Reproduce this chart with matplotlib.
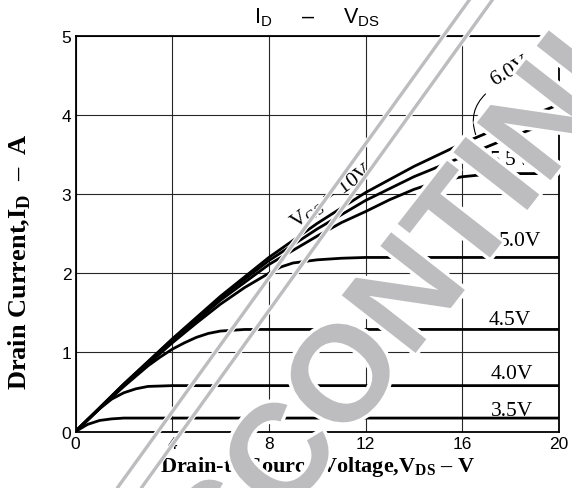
import matplotlib
matplotlib.use("Agg")
import matplotlib.pyplot as plt
import matplotlib.patheffects as pe
from matplotlib.lines import Line2D

plt.rcParams['mathtext.fontset'] = 'custom'
plt.rcParams['mathtext.rm'] = 'Liberation Serif'
plt.rcParams['mathtext.bf'] = 'Liberation Serif:bold'
plt.rcParams['mathtext.sf'] = 'Liberation Sans'

# I_D - V_DS curves (V_DS in V, I_D in A)
vds_10v = [0, 2, 4, 6, 8, 10, 12, 14, 16, 18, 20]
id_10v = [0, 0.60, 1.17, 1.71, 2.20, 2.63, 3.02, 3.35, 3.64, 3.90, 4.13]

vds_6v = [0, 2, 4, 6, 8, 10, 12, 14, 16, 18, 20]
id_6v = [0, 0.60, 1.16, 1.69, 2.16, 2.56, 2.92, 3.22, 3.47, 3.72, 3.95]

vds_55v = [0, 2, 4, 6, 8, 10, 11, 12, 13, 14, 15, 16, 17, 18, 20]
id_55v = [0, 0.59, 1.14, 1.66, 2.11, 2.47, 2.64, 2.78, 2.93, 3.06, 3.16, 3.22, 3.25, 3.26, 3.26]

vds_5v = [0, 2, 4, 5, 6, 7, 8, 8.5, 9, 10, 11, 12, 20]
id_5v = [0, 0.58, 1.12, 1.37, 1.61, 1.82, 2.00, 2.08, 2.13, 2.17, 2.19, 2.20, 2.20]

vds_45v = [0, 1, 2, 3, 3.5, 4, 4.5, 5, 5.5, 6, 7, 8, 20]
id_45v = [0, 0.29, 0.57, 0.83, 0.94, 1.04, 1.12, 1.19, 1.24, 1.27, 1.29, 1.29, 1.29]

vds_4v = [0, 0.5, 1, 1.5, 2, 2.5, 3, 4, 20]
id_4v = [0, 0.15, 0.29, 0.41, 0.49, 0.54, 0.57, 0.58, 0.58]

vds_35v = [0, 0.5, 1, 1.5, 2, 3, 20]
id_35v = [0, 0.09, 0.14, 0.16, 0.17, 0.17, 0.17]

x_ticks = [0, 4, 8, 12, 16, 20]
y_ticks = [0, 1, 2, 3, 4, 5]

fig = plt.figure(figsize=(5.72, 4.89), dpi=100)
ax = fig.add_axes([0.132, 0.1155, 0.845, 0.809])

curves = [(vds_10v, id_10v), (vds_6v, id_6v), (vds_55v, id_55v), (vds_5v, id_5v),
          (vds_45v, id_45v), (vds_4v, id_4v), (vds_35v, id_35v)]
for xs, ys in curves:
    ax.plot(xs, ys, color='black', lw=2.0, solid_capstyle='butt', zorder=3)

ax.set_xlim(0, 20)
ax.set_ylim(0, 5)
ax.set_xticks(x_ticks)
ax.set_yticks(y_ticks)
ax.tick_params(length=0, labelsize=12.5, pad=3)
for lab in ax.get_xticklabels() + ax.get_yticklabels():
    lab.set_family('Liberation Sans')
ax.grid(True, color='0.15', lw=0.8)
for s in ax.spines.values():
    s.set_linewidth(1.3)

# curve labels
lab_kw = dict(family='Liberation Serif', fontsize=15.5, ha='center', va='center')
ax.text(18.0, 3.44, '5.5V', **lab_kw)
ax.text(18.4, 2.41, '5.0V', **lab_kw)
ax.text(17.95, 1.42, '4.5V', **lab_kw)
ax.text(18.05, 0.73, '4.0V', **lab_kw)
ax.text(18.05, 0.27, '3.5V', **lab_kw)
ax.text(18.0, 4.56, '6.0V', rotation=30, **lab_kw)
ax.text(10.6, 2.98, r'V$_{\mathrm{GS}}$ = 10V', rotation=36, **lab_kw)
ax.annotate('', xy=(16.6, 3.72), xytext=(17.05, 4.29),
            arrowprops=dict(arrowstyle='-', lw=0.8, color='black',
                            connectionstyle='arc3,rad=0.35'))

# title and axis titles
ax.text(0.5, 1.02, r'I$_{\mathsf{D}}$     –     V$_{\mathsf{DS}}$', transform=ax.transAxes,
        family='Liberation Sans', fontsize=15.5, ha='center', va='bottom')
fig.text(318 / 572, 1 - 467 / 489, r'Drain-to-Source Voltage,V$_{\mathbf{DS}}$ – V',
         family='Liberation Serif', weight='bold', fontsize=16, ha='center', va='center')
fig.text(20 / 572, 1 - 262 / 489, r'Drain Current,I$_{\mathbf{D}}$  –  A', rotation=90,
         family='Liberation Serif', weight='bold', fontsize=19, ha='center', va='center')

# watermark stamp
wm_gray = '#bdbdbf'
halo = [pe.withStroke(linewidth=4, foreground='white')]
for x0, x1 in [(118, 470), (142, 493)]:
    ln = Line2D([x0 / 572, x1 / 572], [1 - 488 / 489, 1.0], transform=fig.transFigure,
                color=wm_gray, lw=2.4, zorder=10, path_effects=halo)
    fig.add_artist(ln)
fig.text(436 / 572, 1 - 271 / 489, 'DISCONTINUED', rotation=52, rotation_mode='anchor',
         family='Liberation Sans', weight='bold', fontsize=98, color=wm_gray,
         ha='center', va='center', zorder=11,
         path_effects=[pe.withStroke(linewidth=5, foreground='white')])

fig.savefig('out.png', dpi=100)
